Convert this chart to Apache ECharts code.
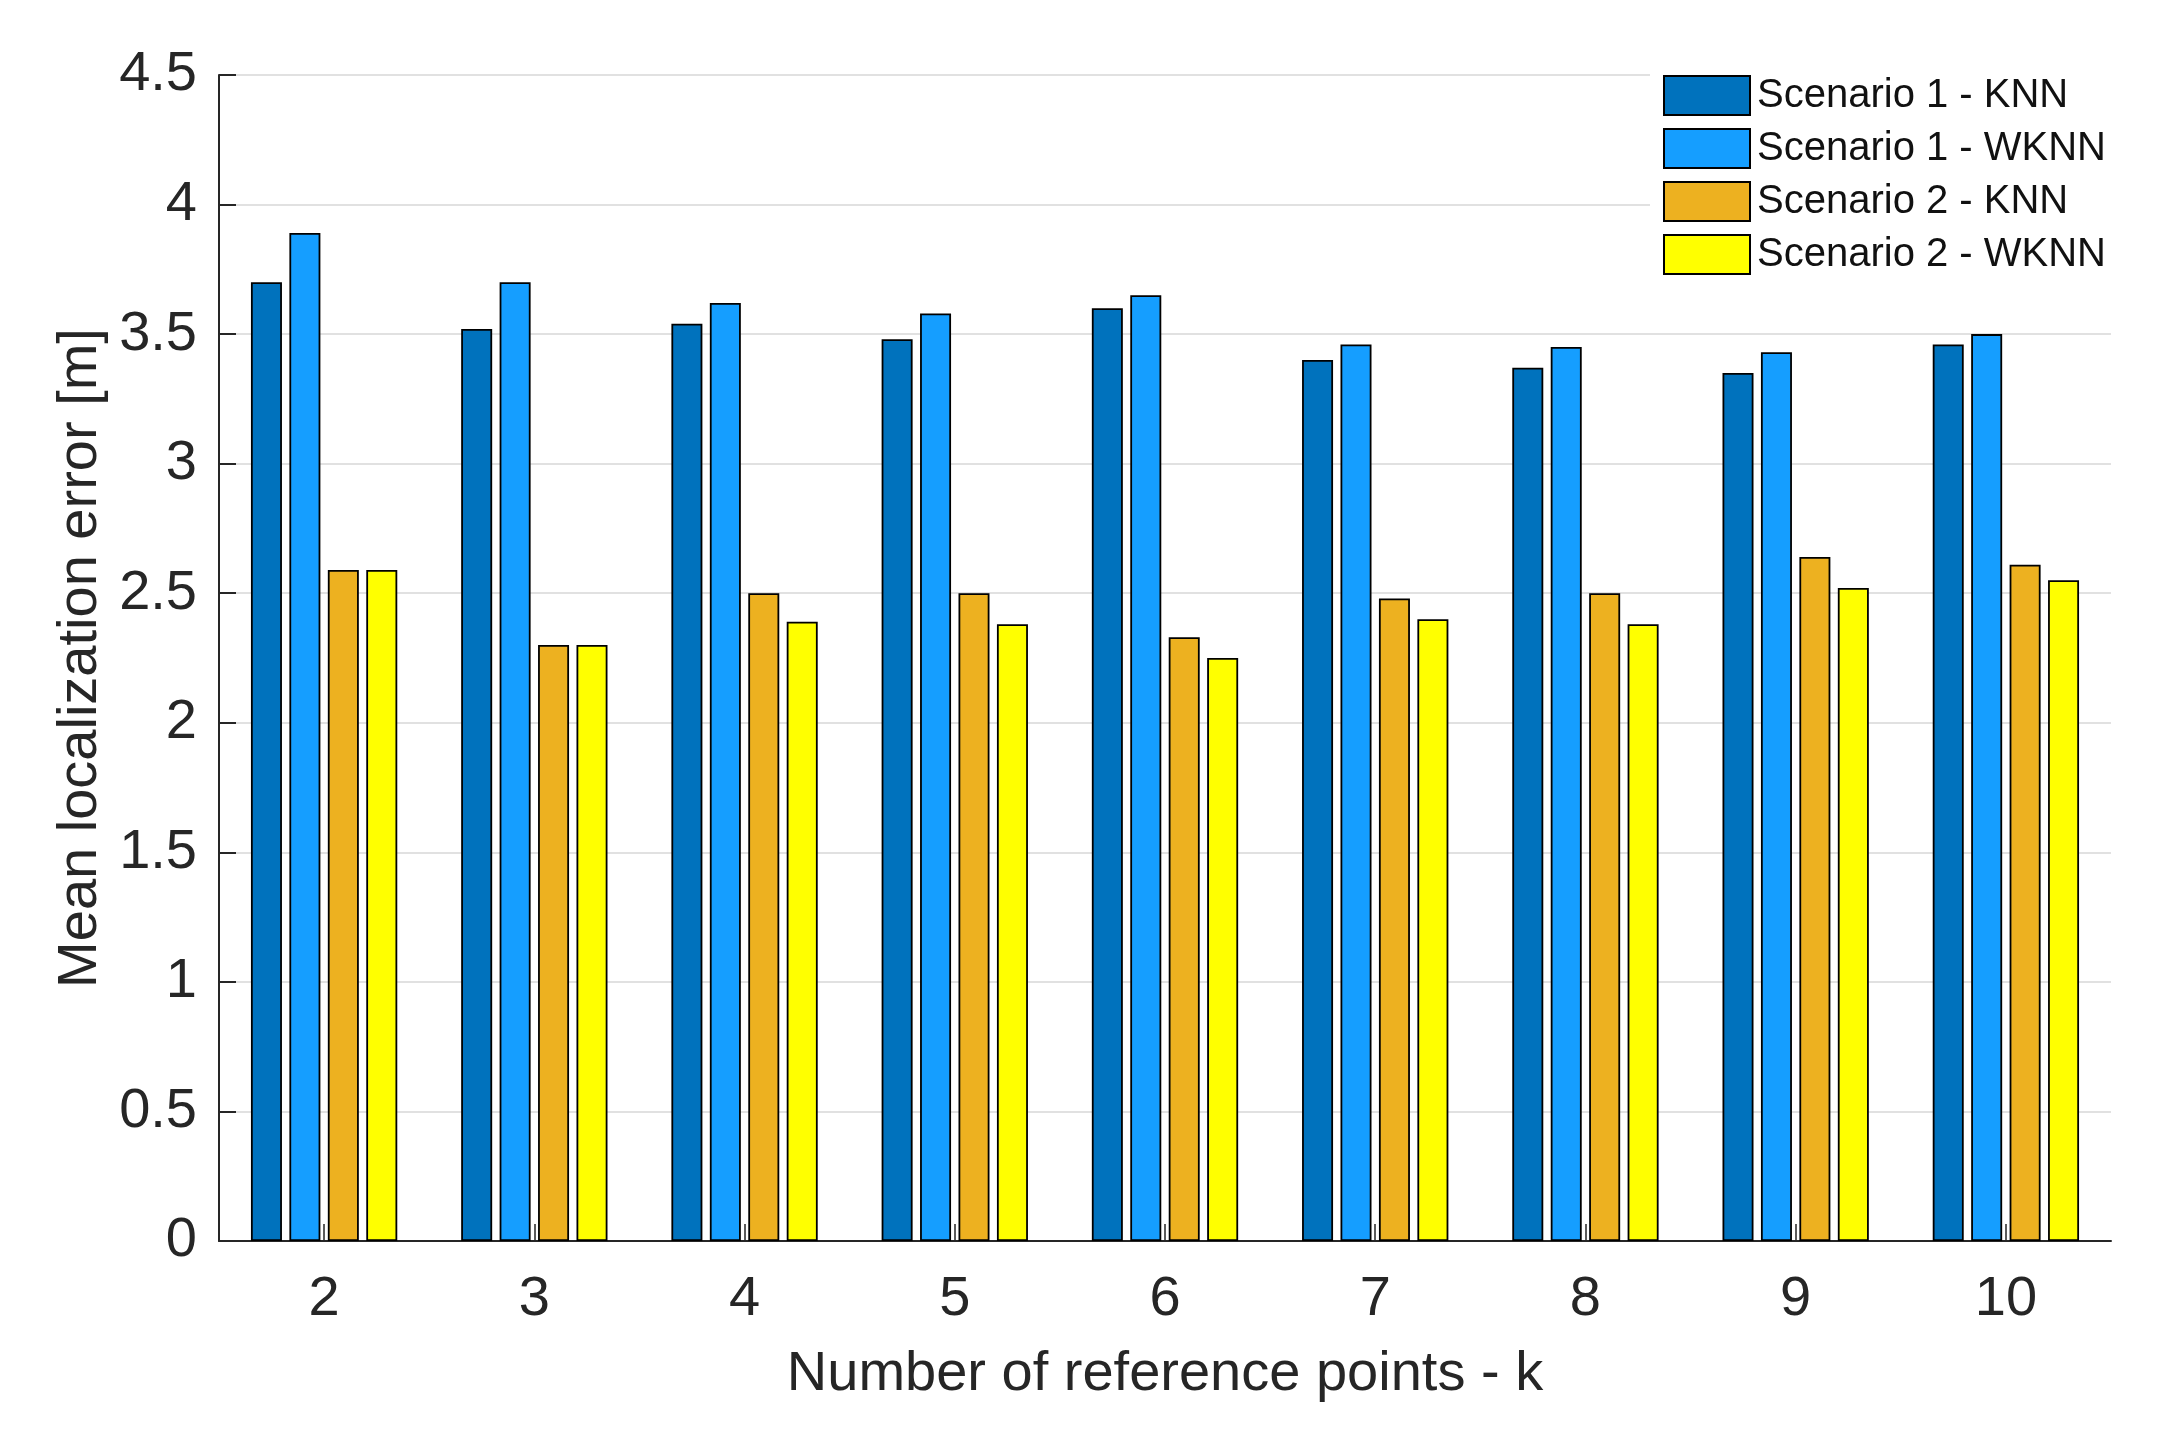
<!DOCTYPE html>
<html>
<head>
<meta charset="utf-8">
<script src="https://cdn.jsdelivr.net/npm/echarts@6/dist/echarts.min.js"></script>
<style>
html,body{margin:0;padding:0;background:#fff;}
#chart{width:2157px;height:1433px;}
</style>
</head>
<body>
<div id="chart"></div>
<script>
const categories = ['2','3','4','5','6','7','8','9','10'];
const yTicks = {min: 0, max: 4.5, interval: 0.5};
const seriesNames = ['Scenario 1 - KNN','Scenario 1 - WKNN','Scenario 2 - KNN','Scenario 2 - WKNN'];
const s1KNN  = [3.70, 3.52, 3.54, 3.48, 3.60, 3.40, 3.37, 3.35, 3.46];
const s1WKNN = [3.89, 3.70, 3.62, 3.58, 3.65, 3.46, 3.45, 3.43, 3.50];
const s2KNN  = [2.59, 2.30, 2.50, 2.50, 2.33, 2.48, 2.50, 2.64, 2.61];
const s2WKNN = [2.59, 2.30, 2.39, 2.38, 2.25, 2.40, 2.38, 2.52, 2.55];
const colors = ['#0072BD', '#159EFF', '#EDB120', '#FFFF00'];
const xName = 'Number of reference points - k';
const yName = 'Mean localization error [m]';

const FONT = '"Liberation Sans", Arial, Helvetica, sans-serif';
const TXT = '#262626';
const allData = [s1KNN, s1WKNN, s2KNN, s2WKNN];

const chart = echarts.init(document.getElementById('chart'), null, {renderer: 'canvas'});
chart.setOption({
  backgroundColor: '#fff',
  animation: false,
  textStyle: {fontFamily: FONT},
  grid: {left: 219, right: 46, top: 75, bottom: 192, containLabel: false},
  legend: {
    orient: 'vertical',
    left: 1650,
    top: 67,
    padding: [8, 14, 8, 13],
    backgroundColor: '#ffffff',
    itemWidth: 86,
    itemHeight: 39,
    itemGap: 12,
    icon: 'rect',
    data: seriesNames,
    textStyle: {fontFamily: FONT, fontSize: 40, color: '#111', lineHeight: 39, padding: [0, 0, 0, 2]}
  },
  xAxis: {
    type: 'category',
    data: categories,
    name: xName,
    nameLocation: 'middle',
    nameGap: 106,
    nameTextStyle: {fontFamily: FONT, fontSize: 56, color: TXT},
    axisLine: {show: true, lineStyle: {color: TXT, width: 2}},
    axisTick: {show: true, alignWithLabel: true, inside: true, length: 17, lineStyle: {color: TXT, width: 1.5}},
    axisLabel: {fontFamily: FONT, fontSize: 56, color: TXT, margin: 31},
    splitLine: {show: false}
  },
  yAxis: {
    type: 'value',
    min: yTicks.min,
    max: yTicks.max,
    interval: yTicks.interval,
    name: yName,
    nameLocation: 'middle',
    nameGap: 106,
    nameTextStyle: {fontFamily: FONT, fontSize: 56, color: TXT},
    axisLine: {show: true, lineStyle: {color: TXT, width: 2}},
    axisTick: {show: true, inside: true, length: 17, lineStyle: {color: TXT, width: 2}},
    axisLabel: {fontFamily: FONT, fontSize: 56, color: TXT, margin: 22},
    splitLine: {show: true, lineStyle: {color: '#e1e1e1', width: 2}}
  },
  series: seriesNames.map((n, i) => ({
    name: n,
    type: 'bar',
    data: allData[i],
    barWidth: 31,
    barGap: '24%',
    itemStyle: {color: colors[i], borderColor: '#000', borderWidth: 1.8},
    emphasis: {disabled: true}
  }))
});
</script>
</body>
</html>
